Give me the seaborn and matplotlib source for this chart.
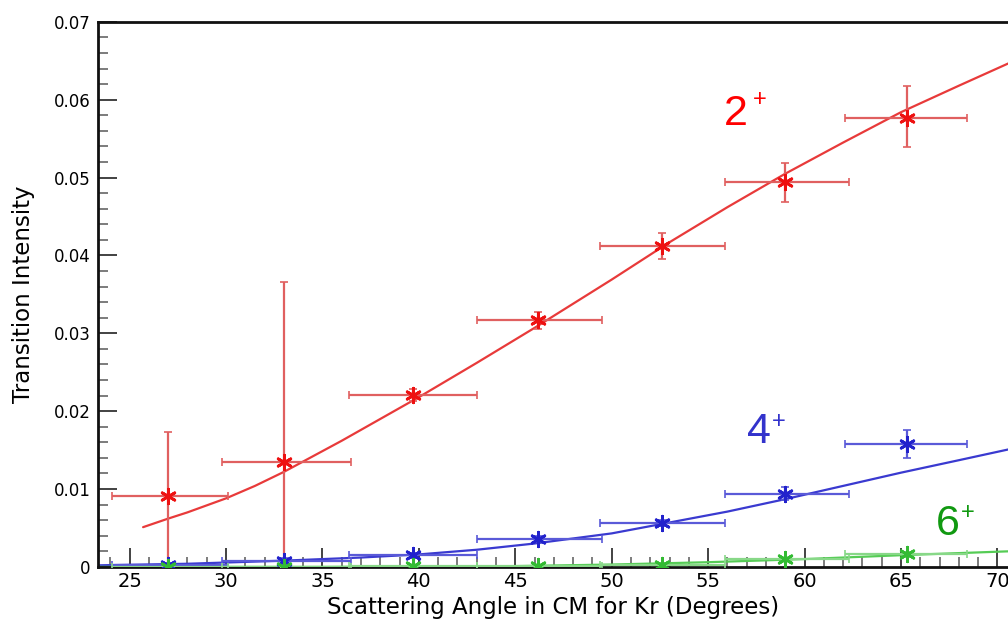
import numpy as np
import matplotlib
matplotlib.use("Agg")
import matplotlib.pyplot as plt
import matplotlib.transforms as mtransforms
import seaborn as sns
from matplotlib.ticker import MultipleLocator

# measured points (same angles for every transition)
angles = [27.0, 33.0, 39.7, 46.2, 52.6, 59.0, 65.3]
angle_err_lo = [2.9, 3.2, 3.3, 3.2, 3.2, 3.1, 3.2]
angle_err_hi = [3.1, 3.5, 3.3, 3.3, 3.3, 3.3, 3.1]

int_2 = [0.0091, 0.0135, 0.0221, 0.0317, 0.0412, 0.0494, 0.0577]
err_2_lo = [0.0091, 0.0135, 0.0008, 0.0011, 0.0017, 0.0025, 0.0038]
err_2_hi = [0.0082, 0.0231, 0.0008, 0.0011, 0.0017, 0.0025, 0.0040]

int_4 = [0.0002, 0.0007, 0.0015, 0.0036, 0.0056, 0.0094, 0.0158]
err_4 = [0.0003, 0.0004, 0.0003, 0.0004, 0.0004, 0.0008, 0.0018]

int_6 = [0.0000, 0.0000, 0.0001, 0.0001, 0.0002, 0.0010, 0.0016]
err_6 = [0.0001, 0.0001, 0.0001, 0.0001, 0.0001, 0.0002, 0.0003]

# fitted curves
fit_x_2 = [25.7, 27, 28, 30, 31.5, 33, 36, 40, 43, 46, 50, 53, 56, 59, 62, 65, 68, 70.6]
fit_y_2 = [0.0051, 0.0062, 0.0070, 0.0088, 0.0104, 0.0122, 0.0162, 0.0218, 0.0262, 0.0307,
           0.0369, 0.0417, 0.0462, 0.0505, 0.0545, 0.0584, 0.0618, 0.0647]
fit_x_4 = [23.4, 28, 33, 37, 40, 43, 46, 50, 53, 56, 59, 62, 65, 68, 70.6]
fit_y_4 = [0.0002, 0.0004, 0.0008, 0.0012, 0.0016, 0.0022, 0.0030, 0.0043, 0.0057, 0.0071,
           0.0087, 0.0104, 0.0121, 0.0137, 0.0151]
fit_x_6 = [23.4, 35, 45, 50, 55, 60, 65, 70.6]
fit_y_6 = [0.0000, 0.0000, 0.0001, 0.0003, 0.0006, 0.0010, 0.0015, 0.0020]

# state labels: text, colour, digit (pixel x, data y), plus sign (pixel x, data y)
labels = ["2", "4", "6"]
label_colors = ["#ff0000", "#3333cc", "#119911"]
label_pos = [(724, 0.0568), (747, 0.0159), (936, 0.0041)]
plus_pos = [(753, 0.0592), (772, 0.0179), (961, 0.0061)]

sns.set_style("ticks")
plt.rcParams['font.family'] = ['DejaVu Sans']
plt.rcParams['text.color'] = 'black'
plt.rcParams['axes.labelcolor'] = 'black'
plt.rcParams['xtick.labelcolor'] = 'black'
plt.rcParams['ytick.labelcolor'] = 'black'

fig = plt.figure(figsize=(10.08, 6.25), dpi=100)
ax = fig.add_axes([0.097, 0.093, 0.903, 0.872])

series = [
    (int_2, [err_2_lo, err_2_hi], fit_x_2, fit_y_2, "#ee1111", "#e06060", "#e83a3a"),
    (int_4, err_4, fit_x_4, fit_y_4, "#2222cc", "#5a5ad8", "#3a3ad0"),
    (int_6, err_6, fit_x_6, fit_y_6, "#33bb33", "#88d888", "#55cc55"),
]
xerr = [angle_err_lo, angle_err_hi]
for vals, yerr, fx, fy, mcol, ecol, lcol in series:
    sns.lineplot(x=fx, y=fy, ax=ax, color=lcol, lw=1.6, zorder=2)
    ax.errorbar(angles, vals, xerr=xerr, yerr=yerr, fmt="none", ecolor=ecol,
                elinewidth=1.6, capsize=3, capthick=1.2, zorder=3)
    sns.scatterplot(x=angles, y=vals, ax=ax, color=mcol, marker=(6, 2, 0), s=110,
                    linewidth=2, edgecolor=mcol, zorder=4)

trans = mtransforms.blended_transform_factory(mtransforms.IdentityTransform(), ax.transData)
for lab, col, (lx, ly), (px, py) in zip(labels, label_colors, label_pos, plus_pos):
    ax.text(lx, ly, lab, color=col, fontsize=31, family="Liberation Sans", transform=trans)
    ax.text(px, py, "+", color=col, fontsize=17, family="Liberation Sans", transform=trans)

ax.set_xlim(23.35, 70.55)
ax.set_ylim(0, 0.07)
ax.xaxis.set_major_locator(MultipleLocator(5))
ax.xaxis.set_minor_locator(MultipleLocator(1))
ax.yaxis.set_minor_locator(MultipleLocator(0.002))
ax.set_yticks(np.arange(0, 0.0701, 0.01))
ax.set_yticklabels(["0", "0.01", "0.02", "0.03", "0.04", "0.05", "0.06", "0.07"])
ax.tick_params(which="major", direction="in", length=14, width=1.2, color="#222222",
               labelsize=12, pad=5)
ax.tick_params(which="minor", direction="in", length=7, width=1.2, color="#666666")
ax.tick_params(axis="x", which="major", labelsize=14, pad=4)

for s in ["left", "bottom", "top"]:
    ax.spines[s].set_linewidth(2)
    ax.spines[s].set_color("#111111")
ax.spines["right"].set_visible(False)

ax.set_xlabel("Scattering Angle in CM for Kr (Degrees)", fontsize=16.5, labelpad=3)
ax.set_ylabel("Transition Intensity", fontsize=16.5, labelpad=14)

fig.savefig("out.png", dpi=100)
